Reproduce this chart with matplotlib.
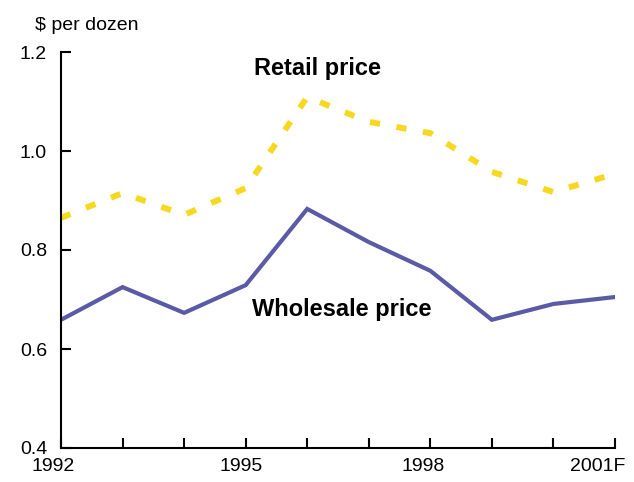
import matplotlib.pyplot as plt
from matplotlib.transforms import ScaledTranslation

plt.rcParams['font.family'] = ['Liberation Sans', 'DejaVu Sans']

years = [1992, 1993, 1994, 1995, 1996, 1997, 1998, 1999, 2000, 2001]
retail = [0.865, 0.915, 0.871, 0.925, 1.109, 1.059, 1.036, 0.958, 0.917, 0.954]
wholesale = [0.659, 0.725, 0.673, 0.729, 0.883, 0.816, 0.758, 0.659, 0.691, 0.705]
xlabels = ['1992', '', '', '1995', '', '', '1998', '', '', '2001F']
yticks = [0.4, 0.6, 0.8, 1.0, 1.2]

fig = plt.figure(figsize=(6.34, 4.82), dpi=100)
ax = fig.add_axes([61 / 634, 34 / 482, 554 / 634, 396 / 482])

ax.plot(years, wholesale, color='#5a5aa6', lw=3, solid_joinstyle='miter')
ax.plot(years, retail, color='#f6d820', lw=4.3, linestyle=(0, (1.7, 2.8)))

ax.set_xlim(1992, 2001)
ax.set_ylim(0.4, 1.2)
ax.set_xticks(years)
ax.set_xticklabels(xlabels)
ax.set_yticks(yticks)
ax.set_yticklabels(['%.1f' % v for v in yticks])

for side in ['top', 'right']:
    ax.spines[side].set_visible(False)
for side in ['left', 'bottom']:
    ax.spines[side].set_linewidth(1.5)
ax.tick_params(direction='in', length=7, width=1.5, labelsize=14, colors='black')
ax.tick_params(axis='y', pad=10)
ax.tick_params(axis='x', pad=7)

# labels sit a little left of their ticks, as in the original
shifts = {'1992': -8, '1995': -5, '1998': -7, '2001F': -17}
for lab in ax.get_xticklabels():
    dx = shifts.get(lab.get_text(), 0)
    lab.set_transform(lab.get_transform() + ScaledTranslation(dx / 100, 0, fig.dpi_scale_trans))

ax.text(1996.16, 1.166, 'Retail price', fontsize=17, fontweight='bold', ha='center', va='center')
ax.text(1996.56, 0.679, 'Wholesale price', fontsize=17, fontweight='bold', ha='center', va='center')

fig.text(35 / 634, 1 - 26 / 482, '$ per dozen', fontsize=14, ha='left', va='center')

fig.savefig('out.png', dpi=100)
